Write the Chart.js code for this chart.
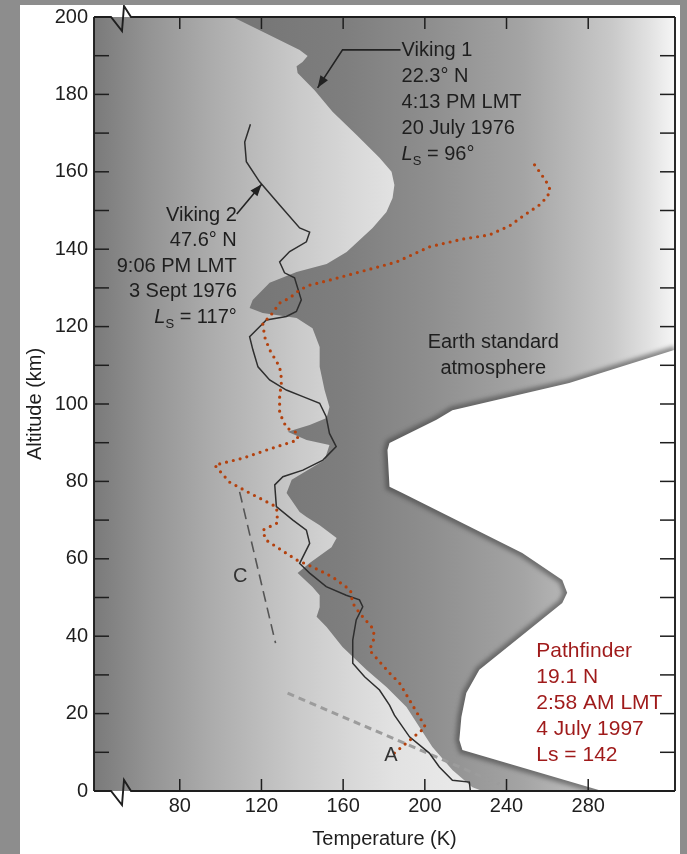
<!DOCTYPE html>
<html>
<head>
<meta charset="utf-8">
<script src="https://cdn.jsdelivr.net/npm/chart.js@4.4.1/dist/chart.umd.min.js"></script>
<style>
html, body { margin: 0; padding: 0; width: 687px; height: 854px; overflow: hidden; background: #8d8d8d; }
#carte { position: absolute; left: 20px; top: 5px; width: 660px; height: 849px; background: #fff; }
canvas { display: block; }
</style>
</head>
<body>
<div id="carte"><canvas id="profil" width="660" height="849"></canvas></div>
<script>
// ── Axes ──────────────────────────────────────────────────────────────
const T_MIN = 38, T_MAX = 322.5;         // K
const ALT_MIN = 0, ALT_MAX = 200;        // km
const TICKS_T = [80, 120, 160, 200, 240, 280];

// ── Profils (température K / altitude km) ────────────────────────────
const VIKING2_T = [114.6, 111.8, 112.6, 119.1, 128.9, 138.7, 143.6, 142.0, 133.8, 128.9,
    131.3, 136.2, 139.5, 137.1, 132.2, 122.4, 117.5, 114.2, 115.8, 118.3, 124.0, 132.2,
    140.3, 148.5, 151.7, 153.3, 156.6, 150.1, 140.3, 130.5, 126.5, 127.3, 135.4, 142.0,
    143.6, 140.3, 138.7, 143.6, 151.7, 161.5, 168.0, 169.6, 166.4, 164.7, 164.7, 170.5,
    177.8, 182.7, 185.1, 192.5, 202.2, 207.1, 213.5, 221.8, 222.3];
const VIKING2_ALT = [172.3, 167.7, 162.6, 157.4, 151.4, 145.5, 144.4, 141.9, 139.4, 136.7,
    133.9, 132.6, 126.9, 123.9, 122.6, 121.7, 119.1, 117.4, 114.0, 109.6, 106.2, 103.6,
    101.9, 100.2, 96.7, 92.4, 89.0, 85.5, 82.9, 81.2, 79.1, 73.5, 70.0, 67.4,
    64.0, 60.5, 58.8, 56.3, 52.8, 50.6, 49.4, 47.6, 44.2, 39.0, 33.0, 29.5,
    26.1, 22.2, 19.6, 14.0, 9.8, 6.2, 2.8, 2.3, 0];

const PATHFINDER_T = [185.1, 200.3, 187.6, 182.7, 172.9, 175.4, 174.4, 168.0, 164.6, 163.6,
    154.8, 145.0, 137.2, 122.1, 120.6, 127.9, 127.4, 114.2, 104.4, 97.1, 110.8, 122.5,
    137.7, 137.7, 132.3, 128.9, 128.9, 129.9, 128.9, 124.0, 121.6, 120.6, 124.0, 128.9,
    133.8, 138.7, 143.6, 153.3, 171.4, 186.1, 202.2, 218.4, 231.6, 241.4, 248.7, 256.0,
    259.9, 261.4, 259.5, 257.0, 253.6];
const PATHFINDER_ALT = [9.8, 16.5, 27.9, 30.5, 36.4, 39.8, 42.1, 46.0, 48.6, 51.9,
    55.3, 57.9, 59.7, 64.9, 67.4, 69.3, 73.4, 77.0, 79.8, 84.2, 86.0, 88.1,
    90.7, 92.5, 93.8, 97.7, 101.8, 106.2, 109.6, 114.0, 117.3, 120.9, 122.5, 126.1,
    127.4, 129.5, 130.7, 132.0, 134.6, 136.7, 140.6, 142.6, 143.7, 146.0, 148.8, 151.4,
    153.5, 155.3, 157.4, 159.4, 161.9];

// Bande sombre (limite gauche de haut en bas, puis coins droits)
const BANDE_T = [105.9, 121.6, 138.7, 142.6, 140.1, 137.2, 137.7, 146.0, 154.8, 166.6,
    177.8, 183.7, 185.1, 184.2, 181.2, 174.4, 161.7, 151.9, 137.2, 124.0, 115.7, 114.2,
    120.6, 137.2, 145.0, 148.5, 148.5, 150.9, 153.3, 151.9, 143.6, 132.8, 142.1, 153.3,
    150.9, 141.1, 134.8, 132.3, 138.7, 142.1, 148.5, 156.8, 154.3, 143.6, 137.7, 145.0,
    148.5, 148.5, 147.0, 151.9, 159.7, 171.4, 181.2, 191.0, 197.4, 203.7, 213.5, 223.3,
    228.2, 322.5, 322.5];
const BANDE_ALT = [200, 195.9, 191.5, 189.9, 188.4, 187.3, 185.5, 181.1, 175.5, 169.5,
    163.6, 160.0, 156.6, 153.2, 149.6, 145.5, 139.3, 136.2, 134.1, 131.3, 126.9, 124.8,
    123.5, 122.2, 119.6, 114.7, 109.6, 103.6, 99.2, 96.4, 94.6, 92.8, 90.7, 89.4,
    85.5, 82.4, 80.4, 77.0, 72.1, 70.8, 68.7, 65.4, 63.0, 58.9, 56.3, 52.7,
    50.6, 47.5, 45.0, 42.4, 37.2, 31.3, 26.9, 21.7, 16.5, 11.4, 5.4, 1.0,
    0, 0, 200];

// Atmosphère terrestre standard (zone blanche)
const TERRE_T = [286.8, 218.4, 216.9, 217.9, 220.3, 226.7, 267.3, 269.7, 267.3, 247.7,
    189.0, 182.7, 181.7, 182.7, 205.7, 213.5, 270.7, 322.5, 322.5];
const TERRE_ALT = [0, 10.6, 13.2, 19.1, 25.3, 31.3, 48.6, 51.2, 54.5, 61.5,
    77.0, 78.6, 88.1, 89.9, 95.9, 98.4, 105.4, 114.0, 0];

// Droites de référence A et C (tirets)
const LIGNE_A_T = [132.8, 236.5];
const LIGNE_A_ALT = [25.3, 1.8];
const LIGNE_C_T = [109.3, 126.9];
const LIGNE_C_ALT = [77.3, 38.2];

// ── Annotations (ancrées en coordonnées de données) ──────────────────
const NOTES = [
    { t: 188.6, alt: 191.3, align: 'left', couleur: '#1e1e1e', taille: 20, pas: 26,
      lignes: ['Viking 1', '22.3° N', '4:13 PM LMT', '20 July 1976', { ls: ' = 96°' }] },
    { t: 107.9, alt: 148.8, align: 'right', couleur: '#1e1e1e', taille: 20, pas: 25.6,
      lignes: ['Viking 2', '47.6° N', '9:06 PM LMT', '3 Sept 1976', { ls: ' = 117°' }] },
    { t: 233.5, alt: 115.8, align: 'center', couleur: '#1e1e1e', taille: 20, pas: 26,
      lignes: ['Earth standard', 'atmosphere'] },
    { t: 254.6, alt: 36.0, align: 'left', couleur: '#9f1a1a', taille: 21, pas: 26,
      lignes: ['Pathfinder', '19.1 N', '2:58 AM LMT', '4 July 1997', 'Ls = 142'] },
    { t: 109.6, alt: 55.4, align: 'center', couleur: '#333', taille: 20, pas: 0, lignes: ['C'] },
    { t: 183.4, alt: 9.3, align: 'center', couleur: '#333', taille: 20, pas: 0, lignes: ['A'] },
];
const FLECHES = [
    { t: [188.1, 159.7, 147.5], alt: [191.5, 191.5, 181.7] },
    { t: [107.9, 120.1], alt: [149.1, 156.8] },
];

// ── Dégradés (fraction de la largeur de la zone de tracé) ─────────────
const STOPS_FOND = [[0, '#7a7a7a'], [0.096, '#949494'], [0.203, '#acacac'], [0.298, '#bfbfbf'],
    [0.355, '#cacaca'], [0.451, '#d9d9d9'], [0.516, '#e2e2e2'], [0.613, '#e8e8e8'], [1, '#f4f4f4']];
const STOPS_BANDE = [[0, '#737373'], [0.268, '#767676'], [0.432, '#7e7e7e'], [0.585, '#8f8f8f'],
    [0.738, '#a4a4a4'], [0.892, '#c9c9c9'], [0.957, '#e2e2e2'], [1, '#f6f6f6']];

const FAMILLE = '"Liberation Sans", Arial, Helvetica, sans-serif';
const ENCRE = '#1e1e1e';

Chart.defaults.font.family = FAMILLE;
Chart.defaults.color = ENCRE;

const points = (ts, alts) => ts.map((t, i) => ({ x: t, y: alts[i] }));

function degrade(ctx, a, stops) {
    const g = ctx.createLinearGradient(a.left, 0, a.right, 0);
    stops.forEach(([f, c]) => g.addColorStop(f, c));
    return g;
}

// ── Plugins ──────────────────────────────────────────────────────────
const fondDegrade = {
    id: 'fondDegrade',
    beforeDatasetsDraw(chart) {
        const { ctx, chartArea: a } = chart;
        ctx.save();
        ctx.fillStyle = degrade(ctx, a, STOPS_FOND);
        ctx.fillRect(a.left, a.top, a.right - a.left, a.bottom - a.top);
        ctx.restore();
    },
};

const ombre = {
    id: 'ombre',
    beforeDatasetDraw(chart, args) {
        if (chart.data.datasets[args.index].ombre) {
            chart.ctx.save();
            chart.ctx.filter = 'blur(2px)';
        }
    },
    afterDatasetDraw(chart, args) {
        if (chart.data.datasets[args.index].ombre) chart.ctx.restore();
    },
};

function ecrireLs(ctx, x, y, suite, align, taille) {
    const fL = `italic ${taille}px ${FAMILLE}`;
    const fS = `${Math.round(taille * 0.66)}px ${FAMILLE}`;
    const fN = `${taille}px ${FAMILLE}`;
    ctx.font = fL; const wL = ctx.measureText('L').width;
    ctx.font = fS; const wS = ctx.measureText('S').width;
    ctx.font = fN; const wN = ctx.measureText(suite).width;
    const x0 = align === 'right' ? x - (wL + wS + wN) : x;
    ctx.textAlign = 'left';
    ctx.font = fL; ctx.fillText('L', x0, y);
    ctx.font = fS; ctx.fillText('S', x0 + wL, y + taille * 0.32);
    ctx.font = fN; ctx.fillText(suite, x0 + wL + wS, y);
}

const annotations = {
    id: 'annotations',
    afterDatasetsDraw(chart) {
        const { ctx, scales: { x, y } } = chart;
        ctx.save();
        ctx.textBaseline = 'middle';
        NOTES.forEach(n => {
            const px = x.getPixelForValue(n.t);
            const py = y.getPixelForValue(n.alt);
            ctx.fillStyle = n.couleur;
            n.lignes.forEach((l, i) => {
                const ly = py + i * n.pas;
                if (typeof l === 'object') {
                    ecrireLs(ctx, px, ly, l.ls, n.align, n.taille);
                } else {
                    ctx.font = `${n.taille}px ${FAMILLE}`;
                    ctx.textAlign = n.align;
                    ctx.fillText(l, px, ly);
                }
            });
        });

        // flèches Viking 1 / Viking 2
        ctx.strokeStyle = '#222';
        ctx.fillStyle = '#222';
        ctx.lineWidth = 1.6;
        FLECHES.forEach(f => {
            const pts = f.t.map((t, i) => [x.getPixelForValue(t), y.getPixelForValue(f.alt[i])]);
            ctx.beginPath();
            pts.forEach(([px, py], i) => (i ? ctx.lineTo(px, py) : ctx.moveTo(px, py)));
            ctx.stroke();
            const [x1, y1] = pts[pts.length - 2];
            const [x2, y2] = pts[pts.length - 1];
            const ang = Math.atan2(y2 - y1, x2 - x1);
            ctx.beginPath();
            ctx.moveTo(x2, y2);
            ctx.lineTo(x2 - 12 * Math.cos(ang) + 4.5 * Math.sin(ang), y2 - 12 * Math.sin(ang) - 4.5 * Math.cos(ang));
            ctx.lineTo(x2 - 12 * Math.cos(ang) - 4.5 * Math.sin(ang), y2 - 12 * Math.sin(ang) + 4.5 * Math.cos(ang));
            ctx.closePath();
            ctx.fill();
        });
        ctx.restore();
    },
};

const cadre = {
    id: 'cadre',
    afterDraw(chart) {
        const { ctx, chartArea: a, scales: { x, y } } = chart;
        const trait = (x1, y1, x2, y2) => { ctx.beginPath(); ctx.moveTo(x1, y1); ctx.lineTo(x2, y2); ctx.stroke(); };
        ctx.save();
        ctx.strokeStyle = ENCRE;
        ctx.lineWidth = 1.9;
        trait(a.left, a.top, a.left, a.bottom);
        trait(a.right, a.top, a.right, a.bottom);
        // axes horizontaux avec coupure
        const c = a.left + 17;
        [a.top, a.bottom].forEach(b => {
            ctx.beginPath();
            ctx.moveTo(a.left, b);
            ctx.lineTo(c, b);
            ctx.lineTo(c + 11, b + 14);
            ctx.lineTo(c + 13, b - 11);
            ctx.lineTo(c + 20, b);
            ctx.lineTo(a.right, b);
            ctx.stroke();
        });
        // graduations intérieures
        ctx.lineWidth = 1.5;
        for (let h = ALT_MIN + 10; h < ALT_MAX; h += 10) {
            const py = y.getPixelForValue(h);
            trait(a.left, py, a.left + 15, py);
            trait(a.right - 15, py, a.right, py);
        }
        TICKS_T.forEach(t => {
            const px = x.getPixelForValue(t);
            trait(px, a.top, px, a.top + 12);
            trait(px, a.bottom - 12, px, a.bottom);
        });
        ctx.restore();
    },
};

// ── Graphique ────────────────────────────────────────────────────────
const ligne = { showLine: true, pointRadius: 0, pointHoverRadius: 0, fill: false, tension: 0 };

new Chart(document.getElementById('profil'), {
    type: 'scatter',
    data: {
        datasets: [
            { ...ligne, label: 'Pathfinder', data: points(PATHFINDER_T, PATHFINDER_ALT),
              borderColor: '#b3410e', borderWidth: 3.2, borderDash: [0, 7], borderCapStyle: 'round', order: 1 },
            { ...ligne, label: 'Viking 2', data: points(VIKING2_T, VIKING2_ALT),
              borderColor: '#2e2e2e', borderWidth: 1.5, order: 2 },
            { ...ligne, label: 'A', data: points(LIGNE_A_T, LIGNE_A_ALT),
              borderColor: '#9c9c9c', borderWidth: 3, borderDash: [7, 5], order: 3 },
            { ...ligne, label: 'C', data: points(LIGNE_C_T, LIGNE_C_ALT),
              borderColor: '#555', borderWidth: 1.6, borderDash: [11, 6], order: 3 },
            { ...ligne, label: 'Terre', data: points(TERRE_T, TERRE_ALT),
              borderColor: 'transparent', borderWidth: 0, backgroundColor: '#ffffff', fill: 'shape', order: 4 },
            { ...ligne, label: 'Ombre', data: points(TERRE_T.slice(0, -1), TERRE_ALT.slice(0, -1)),
              borderColor: 'rgba(60,60,60,0.55)', borderWidth: 8, clip: 0, ombre: true, order: 5 },
            { ...ligne, label: 'Bande', data: points(BANDE_T, BANDE_ALT),
              borderColor: 'transparent', borderWidth: 0, fill: 'shape', order: 6,
              backgroundColor: c => (c.chart.chartArea ? degrade(c.chart.ctx, c.chart.chartArea, STOPS_BANDE) : '#888') },
        ],
    },
    options: {
        responsive: false,
        animation: false,
        events: [],
        layout: { padding: { top: 12, right: 5, left: 0, bottom: 0 } },
        plugins: { legend: { display: false }, tooltip: { enabled: false } },
        scales: {
            x: {
                type: 'linear', min: T_MIN, max: T_MAX,
                grid: { display: false, drawTicks: false }, border: { display: false },
                afterBuildTicks: s => { s.ticks = TICKS_T.map(v => ({ value: v })); },
                afterFit: s => { s.height = 63; s.paddingLeft = 0; s.paddingRight = 0; },
                ticks: { font: { size: 20 }, color: ENCRE, padding: 3, maxRotation: 0, autoSkip: false },
                title: { display: true, text: 'Temperature (K)', font: { size: 20 }, color: ENCRE,
                         padding: { top: 0, bottom: 3 } },
            },
            y: {
                type: 'linear', min: ALT_MIN, max: ALT_MAX,
                grid: { display: false, drawTicks: false }, border: { display: false },
                afterFit: s => { s.width = 74; s.paddingTop = 0; s.paddingBottom = 0; },
                ticks: { stepSize: 20, font: { size: 20 }, color: ENCRE, padding: 6 },
                title: { display: true, text: 'Altitude (km)', font: { size: 20 }, color: ENCRE,
                         padding: { top: 3, bottom: 0 } },
            },
        },
    },
    plugins: [fondDegrade, ombre, annotations, cadre],
});
</script>
</body>
</html>
